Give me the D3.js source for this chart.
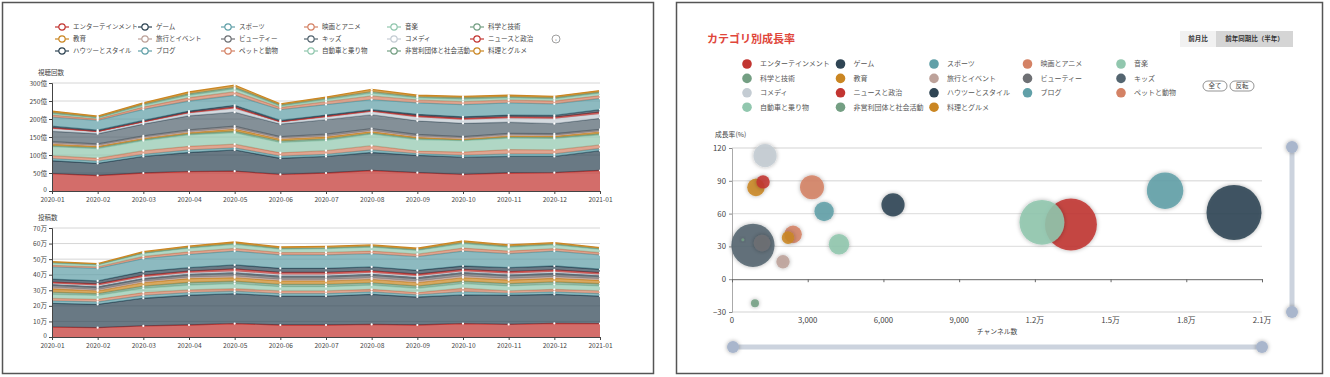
<!DOCTYPE html>
<html>
<head>
<meta charset="utf-8">
<title>カテゴリ分析</title>
<style>
  body { margin: 0; background: #fff; }
  svg text { font-family: "Noto Sans CJK JP", "Noto Sans", sans-serif; fill: #444; }
</style>
<script src="https://d3js.org/d3.v7.min.js"></script>
</head>
<body>
<svg id="chart" width="1330" height="377"></svg>
<script>
// ---- data ----
const categories = ["エンターテインメント", "ゲーム", "スポーツ", "映画とアニメ", "音楽", "科学と技術",
  "教育", "旅行とイベント", "ビューティー", "キッズ", "コメディ", "ニュースと政治",
  "ハウツーとスタイル", "ブログ", "ペットと動物", "自動車と乗り物", "非営利団体と社会活動", "料理とグルメ"];
const palette = ["#c23531", "#2f4554", "#61a0a8", "#d48265", "#91c7ae", "#749f83",
  "#ca8622", "#bda29a", "#6e7074", "#546570", "#c4ccd3"];
const months = ["2020-01", "2020-02", "2020-03", "2020-04", "2020-05", "2020-06", "2020-07",
  "2020-08", "2020-09", "2020-10", "2020-11", "2020-12", "2021-01"];

// 視聴回数 (億), one row per category
const views = [
  [48, 43, 50, 54, 55, 46, 50, 57, 51, 46, 50, 51, 57],
  [36, 34, 46, 53, 59, 45, 46, 50, 48, 48, 46, 45, 55],
  [6, 6, 6, 7, 6, 6, 6, 7, 5, 5, 7, 7, 6],
  [8, 8, 10, 10, 10, 9, 10, 12, 7, 9, 12, 11, 10],
  [25, 27, 28, 32, 32, 29, 29, 32, 32, 32, 32, 32, 28],
  [3, 3, 3, 3, 4, 4, 4, 3, 3, 2, 3, 3, 3],
  [4, 3, 3, 3, 6, 5, 5, 4, 3, 2, 3, 3, 5],
  [3, 3, 3, 3, 3, 3, 3, 3, 3, 3, 3, 3, 3],
  [4, 4, 4, 5, 5, 4, 5, 5, 5, 4, 4, 4, 4],
  [29, 28, 33, 39, 39, 35, 40, 39, 38, 37, 31, 28, 31],
  [7, 5, 5, 7, 10, 5, 7, 8, 10, 10, 11, 14, 12],
  [3, 2, 2, 3, 4, 2, 3, 3, 4, 4, 4, 4, 5],
  [4, 3, 3, 3, 5, 3, 3, 3, 4, 4, 5, 5, 7],
  [25, 27, 31, 28, 28, 30, 29, 28, 32, 34, 34, 32, 31],
  [6, 4, 6, 9, 10, 6, 8, 10, 8, 8, 8, 8, 8],
  [4, 3, 5, 7, 8, 4, 6, 8, 6, 7, 6, 6, 7],
  [3, 2, 3, 4, 4, 3, 3, 4, 3, 4, 3, 3, 3],
  [4, 3, 4, 5, 6, 3, 4, 6, 4, 4, 4, 4, 4]
];

// 投稿数 (万), one row per category
const posts = [
  [6.4, 6.0, 7.1, 7.7, 8.6, 7.7, 7.7, 8.1, 7.7, 8.6, 8.1, 8.8, 8.6],
  [15.2, 15.0, 17.8, 19.1, 19.2, 18.6, 18.6, 19.3, 18.0, 18.4, 18.7, 18.6, 17.7],
  [1.6, 1.6, 1.8, 1.7, 1.6, 1.6, 1.6, 1.6, 1.4, 2.1, 1.4, 1.6, 1.6],
  [1.6, 1.6, 1.8, 1.7, 1.6, 1.7, 1.7, 1.6, 1.4, 2.2, 1.4, 1.6, 1.7],
  [2.6, 2.6, 2.8, 3.2, 3.3, 2.7, 2.7, 2.8, 2.8, 3.0, 3.2, 3.2, 3.2],
  [1.4, 1.1, 1.4, 1.6, 1.5, 1.5, 1.5, 1.4, 1.4, 1.5, 1.5, 1.6, 1.4],
  [2.2, 1.7, 2.2, 2.5, 2.3, 2.2, 2.2, 2.2, 2.2, 2.3, 2.3, 2.3, 2.2],
  [0.9, 0.8, 0.9, 0.9, 1.0, 1.0, 1.0, 1.0, 1.0, 1.1, 1.0, 1.0, 1.0],
  [1.3, 1.3, 1.3, 1.4, 1.6, 1.5, 1.5, 1.6, 1.6, 1.7, 1.6, 1.6, 1.4],
  [0.6, 0.7, 0.7, 0.7, 0.8, 0.8, 0.8, 0.8, 0.8, 0.7, 0.8, 0.8, 0.7],
  [0.6, 0.7, 0.7, 0.7, 0.8, 0.8, 0.8, 0.8, 0.8, 0.7, 0.8, 0.8, 0.7],
  [0.9, 1.0, 1.1, 1.1, 1.4, 1.4, 1.4, 1.3, 1.2, 1.1, 1.2, 1.2, 1.1],
  [1.8, 1.9, 2.4, 2.2, 2.6, 2.6, 2.6, 2.5, 2.5, 2.2, 2.5, 2.5, 2.2],
  [7.9, 8.1, 8.4, 8.6, 8.9, 8.6, 8.6, 8.5, 8.8, 9.6, 9.0, 9.6, 9.2],
  [1.0, 0.9, 1.3, 1.6, 1.7, 1.5, 1.6, 1.7, 1.6, 1.9, 1.7, 1.6, 1.4],
  [1.5, 1.4, 2.0, 2.4, 2.6, 2.3, 2.5, 2.5, 2.4, 2.9, 2.5, 2.4, 2.2],
  [0.4, 0.3, 0.4, 0.5, 0.6, 0.5, 0.5, 0.6, 0.6, 0.7, 0.6, 0.6, 0.5],
  [0.5, 0.4, 0.7, 0.8, 0.9, 0.8, 0.9, 0.8, 0.8, 1.0, 0.8, 0.8, 0.6]
];
const viewTicks = [0, 50, 100, 150, 200, 250, 300];
const postTicks = [0, 10, 20, 30, 40, 50, 60, 70];

// bubble chart: channels, growth (%), bubble size
const channels = [13430, 19890, 17160, 3170, 12280, 910, 950, 2020, 1190, 830,
  1310, 1230, 6380, 3650, 2420, 4240, 430, 2220];
const growth = [50, 61, 81, 84, 52, -22, 84, 16, 33, 31, 113, 89, 68, 62, 41, 32, 36, 38];
const bubbleSize = [75, 84, 37, 16, 56, 1.8, 8.6, 5, 7.7, 52, 15, 5, 15, 10.5, 8.6, 11.8, 0.25, 4.4];
const growthTicks = [-30, 0, 30, 60, 90, 120];
const channelTicks = [0, 3000, 6000, 9000, 12000, 15000, 18000, 21000];

const color = i => palette[i % palette.length];
const svg = d3.select("#chart");

const defs = svg.append("defs");
const shadow = defs.append("filter").attr("id", "shadow")
  .attr("x", "-50%").attr("y", "-50%").attr("width", "200%").attr("height", "200%");
shadow.append("feDropShadow").attr("dx", 0).attr("dy", 0).attr("stdDeviation", 2.2)
  .attr("flood-color", "#000").attr("flood-opacity", 0.35);

// ---- panel frames ----
svg.append("rect").attr("x", 2.5).attr("y", 2.5).attr("width", 651).attr("height", 371)
  .attr("fill", "none").attr("stroke", "#555").attr("stroke-width", 1.5);
svg.append("rect").attr("x", 676.5).attr("y", 2.5).attr("width", 646).attr("height", 371)
  .attr("fill", "none").attr("stroke", "#555").attr("stroke-width", 1.5);

// ---- left legend ----
const legL = svg.append("g").selectAll("g").data(categories).join("g")
  .attr("transform", (d, i) => `translate(${55 + (i % 6) * 83},${27 + Math.floor(i / 6) * 12})`);
legL.append("line").attr("x1", 0).attr("x2", 14).attr("stroke", (d, i) => color(i)).attr("stroke-width", 1.2);
legL.append("circle").attr("cx", 7).attr("r", 3.2).attr("fill", "#fff")
  .attr("stroke", (d, i) => color(i)).attr("stroke-width", 1.2);
legL.append("text").attr("x", 18).attr("dy", "0.35em").attr("font-size", 6.5).text(d => d);
svg.append("circle").attr("cx", 556).attr("cy", 39).attr("r", 4)
  .attr("fill", "none").attr("stroke", "#888").attr("stroke-width", 0.8);
svg.append("text").attr("x", 556).attr("y", 39).attr("dy", "0.35em").attr("text-anchor", "middle")
  .attr("font-size", 5).text("‹");

// ---- stacked area charts ----
const x = d3.scalePoint().domain(months).range([52, 600]);

function stackedChart(rows, ticks, unit, top, bottom, title) {
  const g = svg.append("g");
  const y = d3.scaleLinear().domain([0, d3.max(ticks)]).range([bottom, top]);
  const table = months.map((m, j) => rows.map(r => r[j]));
  const series = d3.stack().keys(d3.range(rows.length)).value((d, k) => d[k])(table);

  g.selectAll(".grid").data(ticks.slice(1)).join("line")
    .attr("x1", 52).attr("x2", 600).attr("y1", d => y(d)).attr("y2", d => y(d))
    .attr("stroke", "#d6d6d6").attr("stroke-width", 1);

  const area = d3.area().x((d, j) => x(months[j])).y0(d => y(d[0])).y1(d => y(d[1]));
  const line = d3.line().x((d, j) => x(months[j])).y(d => y(d[1]));
  series.forEach((s, i) => {
    g.append("path").attr("d", area(s)).attr("fill", color(i)).attr("fill-opacity", 0.72);
    g.append("path").attr("d", line(s)).attr("fill", "none").attr("stroke", color(i)).attr("stroke-width", 1.3);
  });
  series.forEach(s => {
    g.selectAll(null).data(s).join("circle")
      .attr("cx", (d, j) => x(months[j])).attr("cy", d => y(d[1])).attr("r", 1.1).attr("fill", "#fff");
  });

  const yAxis = g.append("g").attr("transform", "translate(52,0)")
    .call(d3.axisLeft(y).tickValues(ticks).tickSize(3).tickPadding(2)
      .tickFormat(d => d === 0 ? "0" : d + unit));
  const xAxis = g.append("g").attr("transform", `translate(0,${bottom})`)
    .call(d3.axisBottom(x).tickSize(3).tickPadding(3));
  [yAxis, xAxis].forEach(a => {
    a.select(".domain").attr("stroke", "#444");
    a.selectAll(".tick line").attr("stroke", "#444");
    a.selectAll("text").attr("font-size", 6.6).attr("fill", "#444");
  });
  // keep the zero label clear of the first month label
  yAxis.selectAll(".tick text").filter(d => d === 0).attr("dy", "0.1em");
  g.append("text").attr("x", 38).attr("y", top - 8).attr("font-size", 6.5).text(title);
}
stackedChart(views, viewTicks, "億", 83, 191, "視聴回数");
stackedChart(posts, postTicks, "万", 228, 337, "投稿数");

// ---- right panel ----
svg.append("text").attr("x", 707).attr("y", 43).attr("font-size", 11).attr("font-weight", 700)
  .style("fill", "#e0463a").text("カテゴリ別成長率");

const modes = ["前月比", "前年同期比（半年）"];
const modeW = [36, 77];
const btn = svg.append("g").selectAll("g").data(modes).join("g")
  .attr("transform", (d, i) => `translate(${1180 + d3.sum(modeW.slice(0, i))},31)`);
btn.append("rect").attr("width", (d, i) => modeW[i]).attr("height", 16)
  .attr("fill", (d, i) => i === 1 ? "#d5d5d5" : "#f1f1f1");
btn.append("text").attr("x", (d, i) => modeW[i] / 2).attr("y", 8).attr("dy", "0.35em")
  .attr("text-anchor", "middle").attr("font-size", 6.5).attr("font-weight", 700).style("fill", "#333").text(d => d);

const legR = svg.append("g").selectAll("g").data(categories).join("g")
  .attr("transform", (d, i) => `translate(${747 + (i % 5) * 93.5},${64 + Math.floor(i / 5) * 14.4})`);
legR.append("circle").attr("r", 4.8).attr("fill", (d, i) => color(i));
legR.append("text").attr("x", 13).attr("dy", "0.35em").attr("font-size", 7).style("fill", "#555").text(d => d);

const pills = ["全て", "反転"];
const pill = svg.append("g").selectAll("g").data(pills).join("g")
  .attr("transform", (d, i) => `translate(${1203 + i * 27},81)`);
pill.append("rect").attr("width", 24).attr("height", 10).attr("rx", 5)
  .attr("fill", "#fff").attr("stroke", "#666").attr("stroke-width", 0.7);
pill.append("text").attr("x", 12).attr("y", 5).attr("dy", "0.35em").attr("text-anchor", "middle")
  .attr("font-size", 6.5).text(d => d);

// bubble chart
const xB = d3.scaleLinear().domain([0, 21000]).range([732, 1262]);
const yB = d3.scaleLinear().domain([-30, 120]).range([312, 148]);
const rB = d3.scaleSqrt().domain([0, 100]).range([0, 30]);
const gB = svg.append("g");

gB.selectAll(".grid").data(growthTicks.filter(d => d !== 0)).join("line")
  .attr("x1", 732).attr("x2", 1262).attr("y1", d => yB(d)).attr("y2", d => yB(d))
  .attr("stroke", "#e2e2e2").attr("stroke-width", 1.4);

const yAxB = gB.append("g").attr("transform", "translate(732,0)")
  .call(d3.axisLeft(yB).tickValues(growthTicks).tickSize(3).tickPadding(3));
yAxB.select(".domain").attr("stroke", "#aaa");
yAxB.selectAll(".tick line").attr("stroke", "#888");
yAxB.selectAll("text").attr("font-size", 7.8).attr("fill", "#444");

const xAxB = gB.append("g").attr("transform", `translate(0,${yB(0)})`)
  .call(d3.axisBottom(xB).tickValues(channelTicks).tickSize(3).tickFormat(""));
xAxB.select(".domain").attr("stroke", "#666");
xAxB.selectAll(".tick line").attr("stroke", "#666");
gB.selectAll(".xlab").data(channelTicks).join("text")
  .attr("x", d => xB(d)).attr("y", 320).attr("dy", "0.35em").attr("text-anchor", "middle")
  .attr("font-size", 7.8).text(d => d >= 10000 ? (d / 10000) + "万" : d3.format(",")(d));
gB.append("text").attr("x", 997).attr("y", 332).attr("dy", "0.35em").attr("text-anchor", "middle")
  .attr("font-size", 6.8).text("チャンネル数");
gB.append("text").attr("x", 715).attr("y", 135).attr("dy", "0.35em")
  .attr("font-size", 6.8).text("成長率(%)");

const order = d3.range(categories.length).sort((a, b) => bubbleSize[b] - bubbleSize[a]);
gB.selectAll(".bubble").data(order).join("circle")
  .attr("cx", i => xB(channels[i])).attr("cy", i => yB(growth[i])).attr("r", i => rB(bubbleSize[i]))
  .attr("fill", i => color(i)).attr("fill-opacity", 0.88).attr("filter", "url(#shadow)");

// zoom sliders
const sliders = [
  { x1: 733, y1: 347, x2: 1262, y2: 347 },
  { x1: 1292, y1: 147, x2: 1292, y2: 312 }
];
sliders.forEach(s => {
  gB.append("line").attr("x1", s.x1).attr("y1", s.y1).attr("x2", s.x2).attr("y2", s.y2)
    .attr("stroke", "#ccd3de").attr("stroke-width", 5).attr("stroke-linecap", "round");
  [[s.x1, s.y1], [s.x2, s.y2]].forEach(p => {
    gB.append("circle").attr("cx", p[0]).attr("cy", p[1]).attr("r", 6)
      .attr("fill", "#a9b6cc").attr("filter", "url(#shadow)");
  });
});
</script>
</body>
</html>
